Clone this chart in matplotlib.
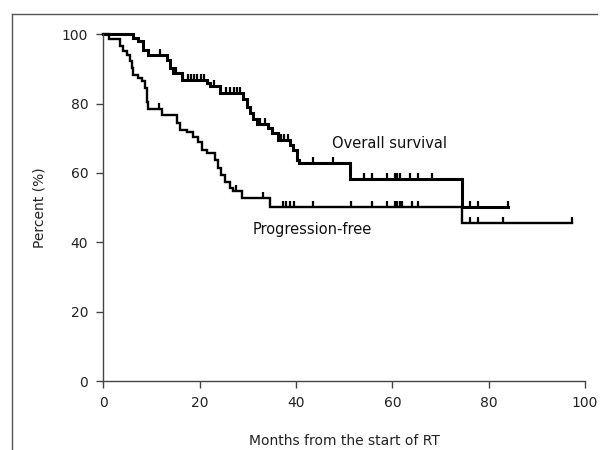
import numpy as np
import matplotlib
matplotlib.use("Agg")
import matplotlib.pyplot as plt
from matplotlib.lines import Line2D

# Overall survival (Kaplan-Meier steps)
os_times = [0, 6.2, 7.2, 8.3, 9.3, 13.1, 13.8, 14.5, 16.2, 21.4, 22.1, 24.2, 29.0, 29.7,
            30.4, 31.1, 31.8, 34.2, 34.9, 36.3, 38.7, 39.4, 40.1, 40.5, 51.2, 74.4]
os_surv = [100, 98.9, 98.0, 95.6, 94.1, 92.7, 90.3, 88.9, 86.9, 86.0, 85.0, 83.1, 81.2, 79.1,
           77.2, 75.5, 74.0, 72.9, 71.4, 69.5, 68.1, 66.6, 63.7, 62.8, 58.2, 50.3]
os_end = 84.1
os_censored = [11.8, 15.0, 17.5, 18.2, 18.8, 19.5, 20.2, 20.8, 23.0, 25.5, 26.2, 27.0, 27.8,
               28.4, 32.5, 33.5, 36.8, 37.4, 38.4, 43.6, 47.7, 54.0, 55.7, 58.8, 60.5, 61.0,
               61.6, 63.7, 65.3, 68.2, 76.1, 77.8, 84.1]

# Progression-free survival
pfs_times = [0, 1.2, 3.4, 4.1, 4.8, 5.5, 5.9, 6.2, 7.2, 7.9, 8.6, 9.0, 9.3, 12.1, 15.2, 15.9,
             17.3, 18.6, 19.7, 20.4, 21.4, 23.2, 23.8, 24.5, 25.2, 26.3, 26.8, 28.8, 34.5, 74.4]
pfs_surv = [100, 98.5, 96.5, 95.1, 94.1, 92.2, 90.3, 88.4, 87.4, 86.4, 84.5, 80.5, 78.5, 76.8,
            74.3, 72.4, 71.9, 70.5, 69.0, 66.6, 65.7, 63.7, 61.4, 59.4, 57.5, 55.6, 54.7, 52.8,
            50.3, 45.7]
pfs_end = 97.2
pfs_censored = [11.5, 27.5, 33.2, 37.2, 38.0, 38.8, 39.6, 43.6, 51.5, 55.7, 58.8, 60.5, 61.0,
                61.5, 62.0, 64.0, 65.3, 76.1, 77.8, 83.0, 97.2]

x_ticks = [0, 20, 40, 60, 80, 100]
y_ticks = [0, 20, 40, 60, 80, 100]


def level_at(times, surv, t):
    idx = np.searchsorted(np.asarray(times), np.asarray(t), side="right") - 1
    return np.asarray(surv)[idx]


fig = plt.figure(figsize=(6, 4.5), dpi=100)
ax = fig.add_axes([0.1725, 0.1533, 0.8025, 0.7705])

# frame around the figure (left and top edges)
fig.add_artist(Line2D([12 / 600, 597 / 600], [1 - 14 / 450, 1 - 14 / 450],
                      transform=fig.transFigure, color="#555555", lw=1.0))
fig.add_artist(Line2D([12 / 600, 12 / 600], [1 - 14 / 450, 0],
                      transform=fig.transFigure, color="#555555", lw=1.0))

ax.step(list(os_times) + [os_end], list(os_surv) + [os_surv[-1]], where="post",
        color="black", lw=2.2, clip_on=False, solid_joinstyle="miter")
ax.step(list(pfs_times) + [pfs_end], list(pfs_surv) + [pfs_surv[-1]], where="post",
        color="black", lw=1.7, clip_on=False, solid_joinstyle="miter")

ax.plot(os_censored, level_at(os_times, os_surv, os_censored), linestyle="none",
        marker=2, ms=4, mew=1.6, color="black", clip_on=False)
ax.plot(pfs_censored, level_at(pfs_times, pfs_surv, pfs_censored), linestyle="none",
        marker=2, ms=4, mew=1.6, color="black", clip_on=False)

ax.text(47.4, 68.4, "Overall survival", fontsize=10.5, color="#111111", va="center", ha="left")
ax.text(31.0, 43.8, "Progression-free", fontsize=10.5, color="#111111", va="center", ha="left")

ax.set_xlim(0, 100)
ax.set_ylim(0, 100)
ax.set_xticks(x_ticks)
ax.set_yticks(y_ticks)
for s in ("top", "right"):
    ax.spines[s].set_visible(False)
for s in ("left", "bottom"):
    ax.spines[s].set_color("#444444")
    ax.spines[s].set_linewidth(1.0)
ax.tick_params(axis="both", direction="out", length=5, width=1.0, color="#444444",
               labelsize=10, labelcolor="#222222", pad=6)

ax.set_xlabel("Months from the start of RT", fontsize=10, color="#222222", labelpad=17)
ax.set_ylabel("Percent (%)", fontsize=10, color="#222222", labelpad=11)

fig.savefig("out.png", dpi=100, facecolor="white")
